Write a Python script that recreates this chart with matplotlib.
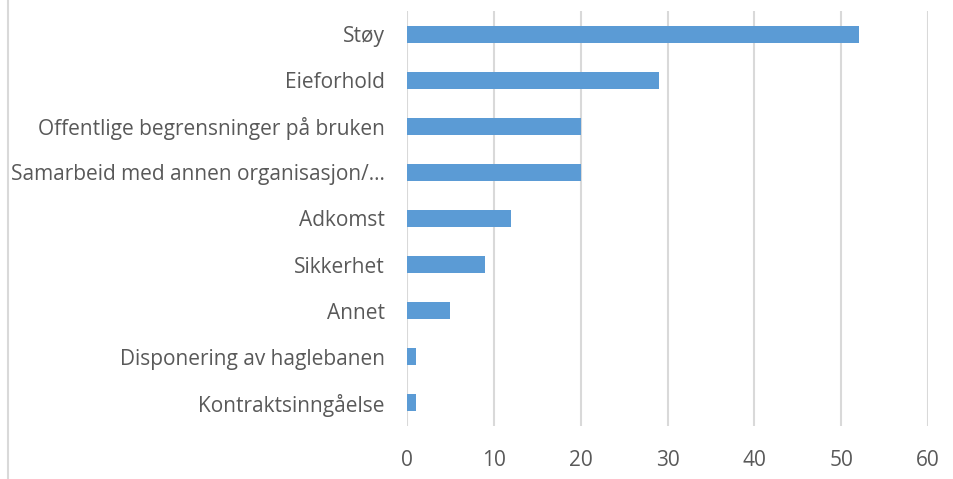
import matplotlib
matplotlib.use("Agg")
import matplotlib.pyplot as plt
from matplotlib.lines import Line2D

categories = ["Støy", "Eieforhold", "Offentlige begrensninger på bruken",
              "Samarbeid med annen organisasjon/…", "Adkomst", "Sikkerhet",
              "Annet", "Disponering av haglebanen", "Kontraktsinngåelse"]
values = [52, 29, 20, 20, 12, 9, 5, 1, 1]
xticks = [0, 10, 20, 30, 40, 50, 60]

plt.rcParams['font.family'] = ['Open Sans', 'DejaVu Sans']

fig = plt.figure(figsize=(9.54, 4.79), dpi=100)
W, H = 954, 479
ax = fig.add_axes([407 / W, 1 - 426 / H, (928 - 407) / W, (426 - 11) / H])

ypos = list(range(len(categories)))
ax.barh(ypos, values, height=0.37, color='#5B9BD5', zorder=3)
ax.set_ylim(len(categories) - 0.5, -0.5)
ax.set_xlim(0, 60)
ax.set_xticks(xticks)
ax.set_xticklabels([str(t) for t in xticks])
ax.set_yticks(ypos)
ax.set_yticklabels(categories)
ax.grid(axis='x', color='#D9D9D9', linewidth=1.5, zorder=0)
for s in ax.spines.values():
    s.set_visible(False)
ax.tick_params(axis='both', length=0, colors='#595959', labelsize=15)
ax.tick_params(axis='y', pad=16)
ax.tick_params(axis='x', pad=17)

fig.add_artist(Line2D([8.5 / W, 8.5 / W], [0, 1], transform=fig.transFigure,
                      color='#D9D9D9', linewidth=1.5))

fig.savefig("out.png", dpi=100, facecolor='white')
